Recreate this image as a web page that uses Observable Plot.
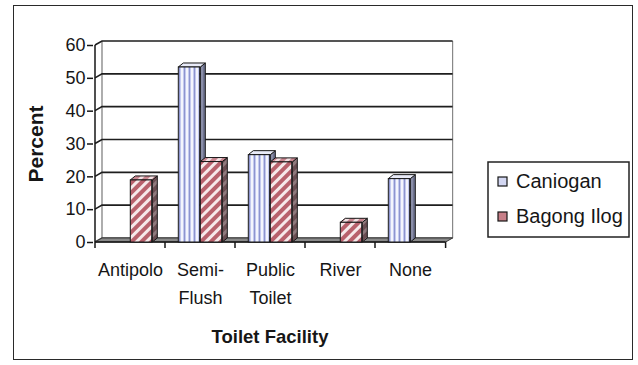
<!DOCTYPE html>
<html>
<head>
<meta charset="utf-8">
<script src="https://cdn.jsdelivr.net/npm/d3@7"></script>
<script src="https://cdn.jsdelivr.net/npm/@observablehq/plot@0.6"></script>
<style>
  html, body { margin: 0; padding: 0; background: #fff; }
  #wrap { position: relative; width: 638px; height: 365px; background: #fff; overflow: hidden; }
  #border { position: absolute; left: 13px; top: 5px; width: 620px; height: 355px; border: 1.5px solid #2a2a2a; box-sizing: border-box; pointer-events: none; }
  #chart { position: absolute; left: 0; top: 0; }
  #legend { position: absolute; left: 0; top: 0; }
</style>
</head>
<body>
<div id="wrap">
  <div id="chart"></div>
  <svg id="legend" width="638" height="365"></svg>
  <div id="border"></div>
</div>
<script>
// ---- data ----
const categories = ["Antipolo", "Semi-Flush", "Public Toilet", "River", "None"];
const tickLabels = ["Antipolo", "Semi-\nFlush", "Public\nToilet", "River", "None"];
const seriesNames = ["Caniogan", "Bagong Ilog"];
const caniogan = [0, 53.3, 26.6, 0, 19.3];
const bagongIlog = [18.9, 24.5, 24.4, 6, 0];
const yTicks = [0, 10, 20, 30, 40, 50, 60];
const xTitle = "Toilet Facility";
const yTitle = "Percent";

const data = categories.flatMap((c, i) => [
  {cat: c, series: seriesNames[0], value: caniogan[i]},
  {cat: c, series: seriesNames[1], value: bagongIlog[i]}
]);

// ---- layout / style ----
const W = 638, H = 365;
const ml = 93, mr = 192, mt = 45, mb = 123;
const bw = (W - ml - mr) / categories.length;
const barW = 22;
const wallDx = 7, wallDy = -4;   // depth of back wall
const barDx = 5, barDy = -4;     // depth of bars
const font = "'Liberation Sans', Arial, Helvetica, sans-serif";
const ink = "#161616";

// patterns + walls, floor, gridlines
function walls(index, scales) {
  const {x, y} = scales;
  const g = d3.create("svg:g");
  const defs = g.append("defs");
  // Caniogan: vertical stripes
  let p = defs.append("pattern").attr("id", "pc").attr("patternUnits", "userSpaceOnUse").attr("width", 5).attr("height", 10);
  p.append("rect").attr("width", 5).attr("height", 10).attr("fill", "#c3c9ee");
  p.append("rect").attr("x", 1).attr("width", 2).attr("height", 10).attr("fill", "#f4f5fd");
  p.append("rect").attr("x", 4).attr("width", 1).attr("height", 10).attr("fill", "#8d94cf");
  p = defs.append("pattern").attr("id", "pcs").attr("patternUnits", "userSpaceOnUse").attr("width", 5).attr("height", 10);
  p.append("rect").attr("width", 5).attr("height", 10).attr("fill", "#6f7390");
  p.append("rect").attr("x", 1).attr("width", 2).attr("height", 10).attr("fill", "#8a8ea8");
  // Bagong Ilog: diagonal stripes
  p = defs.append("pattern").attr("id", "pb").attr("patternUnits", "userSpaceOnUse").attr("width", 7).attr("height", 7).attr("patternTransform", "rotate(45)");
  p.append("rect").attr("width", 7).attr("height", 7).attr("fill", "#b8616c");
  p.append("rect").attr("x", 0).attr("width", 3).attr("height", 7).attr("fill", "#f6e9ea");
  p = defs.append("pattern").attr("id", "pbs").attr("patternUnits", "userSpaceOnUse").attr("width", 7).attr("height", 7).attr("patternTransform", "rotate(45)");
  p.append("rect").attr("width", 7).attr("height", 7).attr("fill", "#6a4d52");
  p.append("rect").attr("x", 0).attr("width", 3).attr("height", 7).attr("fill", "#8f7a7d");
  p = defs.append("pattern").attr("id", "pbt").attr("patternUnits", "userSpaceOnUse").attr("width", 7).attr("height", 7).attr("patternTransform", "rotate(45)");
  p.append("rect").attr("width", 7).attr("height", 7).attr("fill", "#c98690");
  p.append("rect").attr("x", 0).attr("width", 3).attr("height", 7).attr("fill", "#f3e2e4");

  const x0 = x(categories[0]);
  const xEnd = x(categories[categories.length - 1]) + bw;
  const y0 = y(0), yTop = y(d3.max(yTicks));
  // back wall right edge + left edge
  g.append("line").attr("x1", xEnd + wallDx).attr("x2", xEnd + wallDx).attr("y1", yTop + wallDy).attr("y2", y0 + wallDy)
    .attr("stroke", "#888").attr("stroke-width", 1.2);
  g.append("line").attr("x1", x0 + wallDx).attr("x2", x0 + wallDx).attr("y1", yTop + wallDy).attr("y2", y0 + wallDy)
    .attr("stroke", "#777").attr("stroke-width", 1.2);
  // gridlines (side wall diagonal + back wall)
  for (const t of yTicks) {
    const yy = y(t);
    g.append("polyline")
      .attr("points", [[x0, yy], [x0 + wallDx, yy + wallDy], [xEnd + wallDx, yy + wallDy]].map(d => d.join(",")).join(" "))
      .attr("fill", "none").attr("stroke", t === 0 ? "#555" : "#1e1e1e").attr("stroke-width", 1.6);
  }
  // floor
  g.append("polygon")
    .attr("points", [[x0, y0], [xEnd, y0], [xEnd + wallDx, y0 + wallDy], [x0 + wallDx, y0 + wallDy]].map(d => d.join(",")).join(" "))
    .attr("fill", "#8a8a8a").attr("stroke", "#3a3a3a").attr("stroke-width", 1);
  // axis lines
  g.append("line").attr("x1", x0).attr("x2", x0).attr("y1", yTop).attr("y2", y0).attr("stroke", ink).attr("stroke-width", 1.5);
  g.append("line").attr("x1", x0).attr("x2", xEnd).attr("y1", y0).attr("y2", y0).attr("stroke", ink).attr("stroke-width", 1.5);
  // x ticks at category boundaries
  for (let i = 0; i <= categories.length; i++) {
    const xx = i < categories.length ? x(categories[i]) : xEnd;
    g.append("line").attr("x1", xx).attr("x2", xx).attr("y1", y0).attr("y2", y0 + 6).attr("stroke", ink).attr("stroke-width", 1.5);
  }
  return g.node();
}

function barOffsets(series) {
  return series === seriesNames[0]
    ? {insetLeft: bw / 2 - barW, insetRight: bw / 2}
    : {insetLeft: bw / 2, insetRight: bw / 2 - barW};
}

function bar3d(series) {
  return function (index, scales) {
    const {x, y} = scales;
    const g = d3.create("svg:g");
    const off = barOffsets(series);
    const isC = series === seriesNames[0];
    for (const d of data) {
      if (d.series !== series || !(d.value > 0)) continue;
      const xa = x(d.cat) + off.insetLeft, xb = x(d.cat) + bw - off.insetRight;
      const yt = y(d.value), yb = y(0);
      g.append("polygon")
        .attr("points", [[xb, yt], [xb + barDx, yt + barDy], [xb + barDx, yb + barDy], [xb, yb]].map(p => p.join(",")).join(" "))
        .attr("fill", isC ? "url(#pcs)" : "url(#pbs)").attr("stroke", ink).attr("stroke-width", 1);
      g.append("polygon")
        .attr("points", [[xa, yt], [xb, yt], [xb + barDx, yt + barDy], [xa + barDx, yt + barDy]].map(p => p.join(",")).join(" "))
        .attr("fill", isC ? "#e9ebf8" : "url(#pbt)").attr("stroke", ink).attr("stroke-width", 1);
    }
    return g.node();
  };
}

function front(series) {
  return Plot.barY(data.filter(d => d.series === series && d.value > 0), {
    x: "cat", y: "value",
    fill: series === seriesNames[0] ? "url(#pc)" : "url(#pb)",
    stroke: ink, strokeWidth: 1,
    ...barOffsets(series)
  });
}

const chart = Plot.plot({
  width: W, height: H,
  marginLeft: ml, marginRight: mr, marginTop: mt, marginBottom: mb,
  style: {fontFamily: font, fontSize: "18px", color: ink, background: "transparent", overflow: "visible"},
  x: {type: "band", domain: categories, padding: 0, axis: null},
  y: {domain: [0, 60], axis: null},
  marks: [
    walls,
    Plot.axisY(yTicks, {tickSize: 6, tickPadding: 2, stroke: ink, strokeWidth: 1.5, fontSize: 18, label: null}),
    bar3d(seriesNames[0]),
    front(seriesNames[0]),
    bar3d(seriesNames[1]),
    front(seriesNames[1]),
    Plot.text(categories, {x: d => d, text: (d, i) => tickLabels[i], frameAnchor: "bottom", dy: 14, lineAnchor: "top", lineHeight: 1.55, fontSize: 18, fill: ink}),
    Plot.text([xTitle], {frameAnchor: "bottom", dy: 100, fontSize: 18.5, fontWeight: "bold", fill: ink}),
    Plot.text([yTitle], {frameAnchor: "left", dx: -57, rotate: -90, textAnchor: "middle", fontSize: 21, fontWeight: "bold", fill: ink})
  ]
});
document.getElementById("chart").appendChild(chart);

// ---- legend ----
const leg = d3.select("#legend");
leg.append("rect").attr("x", 488).attr("y", 162).attr("width", 141).attr("height", 75)
  .attr("fill", "#fff").attr("stroke", "#222").attr("stroke-width", 1.5);
seriesNames.forEach((s, i) => {
  const yb = 188 + i * 35;
  leg.append("rect").attr("x", 498).attr("y", yb - 11).attr("width", 9).attr("height", 9)
    .attr("fill", i === 0 ? "#d3d7f2" : "#c77f88").attr("stroke", ink).attr("stroke-width", 1.2);
  leg.append("text").attr("x", 516).attr("y", yb).text(s)
    .attr("font-family", font).attr("font-size", 20).attr("fill", ink);
});
</script>
</body>
</html>
